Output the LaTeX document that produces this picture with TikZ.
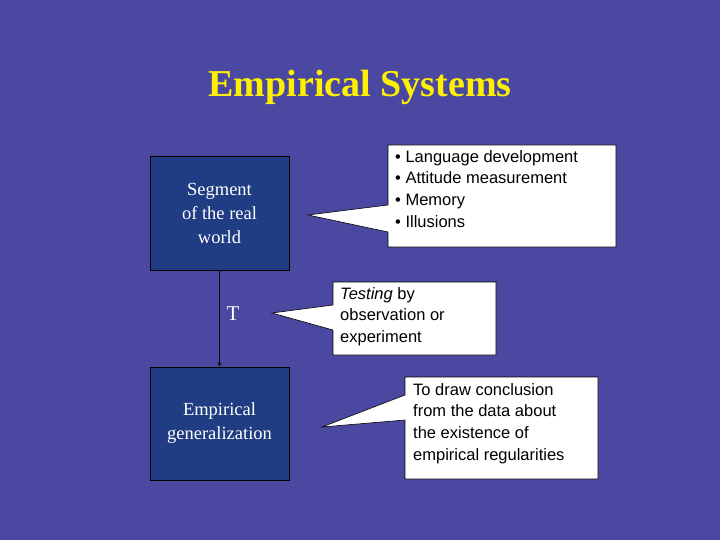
\documentclass[tikz,border=0pt]{standalone}
\usepackage{fontspec}
\setmainfont{Liberation Serif}
\setsansfont{Liberation Sans}
\definecolor{bg}{RGB}{74,72,160}
\definecolor{boxblue}{RGB}{32,60,130}
\definecolor{ttl}{RGB}{255,240,0}
\begin{document}
\begin{tikzpicture}[x=1pt,y=-1pt,
  box/.style={draw=black,fill=boxblue,text=white,font=\fontsize{18.5}{24}\selectfont,align=center,line width=1pt},
  call/.style={draw=black,fill=white,line width=0.6pt},
  ctext/.style={font=\sffamily\fontsize{16.5}{21.8}\selectfont,align=left,anchor=north west,inner sep=0pt}]
\useasboundingbox (0,0) rectangle (720,540);
\fill[bg] (0,0) rectangle (720,540);
\node (title) at (360,87) {\textcolor{ttl}{\fontsize{38}{42}\selectfont\bfseries Empirical Systems}};
\node[box,minimum width=139pt,minimum height=113pt] (b1) at (219.5,213.5) {Segment\\of the real\\world};
\node[box,minimum width=139pt,minimum height=113pt] (b2) at (219.5,423.5) {Empirical\\generalization};
\node[text=white,font=\fontsize{21}{24}\selectfont] (t) at (233,314) {T};
\draw[-stealth,black,line width=0.8pt] (b1.south) -- (b2.north);
\draw[call] (388,145)--(616,145)--(616,247)--(388,247)--(388,232)--(308,215)--(388,205)--cycle;
\node[ctext] (c1) at (395,150) {• Language development\\• Attitude measurement\\• Memory\\• Illusions};
\draw[call] (333,282)--(496,282)--(496,355)--(333,355)--(333,330)--(272,313)--(333,305)--cycle;
\node[ctext] (c2) at (340,287) {\textit{Testing} by\\observation or\\experiment};
\draw[call] (405,377)--(598,377)--(598,479)--(405,479)--(405,420)--(322,427)--(405,395)--cycle;
\node[ctext] (c3) at (413,383) {To draw conclusion\\from the data about\\the existence of\\empirical regularities};
\end{tikzpicture}
\end{document}
